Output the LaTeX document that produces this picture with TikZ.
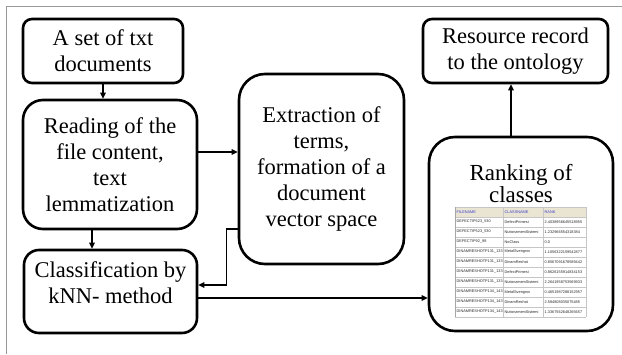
\documentclass[tikz,border=0pt]{standalone}
\usepackage{fontspec}
\setmainfont{Liberation Serif}
\newfontfamily\tabfont{Liberation Sans}
\usetikzlibrary{arrows.meta}
\definecolor{tabhead}{HTML}{E9E5D2}
\definecolor{tabblue}{HTML}{3A3AD0}
\begin{document}
\begin{tikzpicture}[x=1pt,y=-1pt,
  box/.style={draw=black, line width=2.6pt, fill=white, inner sep=0pt},
  lbl/.style={align=center, font=\fontsize{22.5}{26}\selectfont, inner sep=0pt},
  conn/.style={draw=black, line width=1.1pt, -{Triangle[length=6pt,width=5.5pt]}},
  cell/.style={anchor=west, inner sep=0pt, text=black!85, font=\tabfont\fontsize{3.85}{4}\selectfont},
  grid/.style={draw=gray!45, line width=0.4pt}
  ]
\useasboundingbox (0,0) rectangle (622,354);
% page frame
\draw[gray!80, line width=0.9pt] (6,354) -- (6,6) -- (622,6);

% process boxes
\node[box, lbl, minimum width=160pt, minimum height=64pt, rounded corners=9pt]
  (docs) at (103,51) {A set of txt\\documents};
\node[box, lbl, minimum width=174pt, minimum height=129pt, rounded corners=20pt]
  (read) at (110,164.5) {Reading of the\\file content,\\text\\lemmatization};
\node[box, lbl, minimum width=165pt, minimum height=190pt, rounded corners=26pt]
  (extr) at (321.5,169) {Extraction of\\terms,\\formation of a\\document\\vector space};
\node[box, minimum width=173pt, minimum height=83pt, rounded corners=15pt]
  (cls) at (110.5,291.5) {};
\node[lbl] (clst) at (110.5,283) {Classification by\\kNN- method};
\node[box, lbl, minimum width=185pt, minimum height=64pt, rounded corners=9pt]
  (ont) at (515.5,51) {Resource record\\to the ontology};
\node[box, minimum width=184pt, minimum height=194pt, rounded corners=26pt]
  (rank) at (521,234) {};
\node[lbl, font=\fontsize{23}{22}\selectfont] (rankt) at (521,184) {Ranking of\\classes};

% ranking table
\fill[tabhead] (455,207) rectangle (586,217);
\foreach \k in {0,...,11}
  \draw[grid] (455,{207+10*\k}) -- (586,{207+10*\k});
\foreach \x in {503,543,586}
  \draw[grid] (\x,207) -- (\x,317);
\draw[gray!70, line width=0.6pt] (455,207) -- (455,317);
\node[cell, text=tabblue] (th1) at (456.5,212) {FILENAME};
\node[cell, text=tabblue] (th2) at (504.5,212) {CLASSNAME};
\node[cell, text=tabblue] (th3) at (544.5,212) {RANK};
\foreach \a/\b/\c [count=\r] in {
  DEFECTIP523\_530/DefectPrimesi/2.4038956645518955,
  DEFECTIP523\_530/NizionzmemSistemi/1.232966554318384,
  DEFECTIP92\_98/NoClass/0.0,
  DINAMRESHOTP131\_133/MetalSvengrov/1.1056322159542877,
  DINAMRESHOTP131\_133/DinamReshot/0.8567091678589442,
  DINAMRESHOTP131\_133/DefectPrimesi/0.8626155914834153,
  DINAMRESHOTP131\_133/NizionzmemSistemi/2.2641958753569933,
  DINAMRESHOTP134\_143/MetalSvengrov/0.4651987288152957,
  DINAMRESHOTP134\_143/DinamReshot/2.584808035075485,
  DINAMRESHOTP134\_143/NizionzmemSistemi/1.3367562648265657}
{
  \node[cell] (t\r a) at (456.5,{212+10*\r}) {\a};
  \node[cell] (t\r b) at (504.5,{212+10*\r}) {\b};
  \node[cell] (t\r c) at (544.5,{212+10*\r}) {\c};
}

% connector end points
\coordinate (readR) at ([yshift=12.5pt]read.east);
\coordinate (readB) at ([xshift=-18pt]read.south);
\coordinate (extrL) at ([yshift=-60pt]extr.west);
\coordinate (clsIn) at ([yshift=6.5pt]cls.east);
\coordinate (clsOut) at ([yshift=-6.5pt]cls.east);
\coordinate (rankT) at ([xshift=-10pt]rank.north);

% connectors
\draw[conn] (docs.south) -- (docs.south |- read.north);
\draw[conn] (readR) -- (extr.west |- readR);
\draw[conn] (readB) -- (readB |- cls.north);
\draw[conn] (extrL) -- ++(-11,0) |- (clsIn);
\draw[conn] (clsOut) -- (rank.west |- clsOut);
\draw[conn] (rankT) -- (rankT |- ont.south);
\end{tikzpicture}
\end{document}
